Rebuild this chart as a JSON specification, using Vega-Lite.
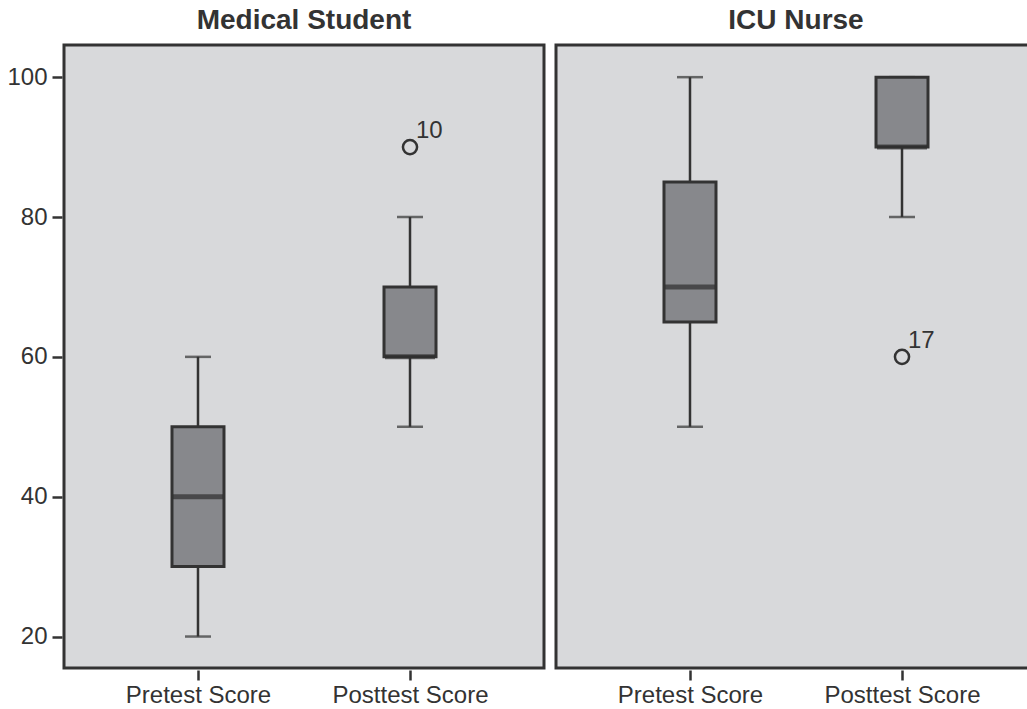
{
  "$schema": "https://vega.github.io/schema/vega-lite/v6.json",
  "padding": {"left": 0, "top": 7, "right": 0, "bottom": 0},
  "background": "white",
  "data": {"values": [
    {"group": "Medical Student", "test": "Pretest Score", "min": 20, "q1": 30, "median": 40, "q3": 50, "max": 60, "outlier": null, "case": null},
    {"group": "Medical Student", "test": "Posttest Score", "min": 50, "q1": 60, "median": 60, "q3": 70, "max": 80, "outlier": 90, "case": "10"},
    {"group": "ICU Nurse", "test": "Pretest Score", "min": 50, "q1": 65, "median": 70, "q3": 85, "max": 100, "outlier": null, "case": null},
    {"group": "ICU Nurse", "test": "Posttest Score", "min": 80, "q1": 90, "median": 90, "q3": 100, "max": 100, "outlier": 60, "case": "17"}
  ]},
  "facet": {
    "column": {"field": "group", "type": "nominal", "sort": ["Medical Student", "ICU Nurse"], "title": null,
      "header": {"labelFontSize": 28, "labelFontWeight": "bold", "labelColor": "#333333", "labelFont": "Liberation Sans", "labelPadding": 8}}
  },
  "spacing": 8,
  "spec": {
    "width": 480,
    "height": 623,
    "encoding": {
      "x": {"field": "test", "type": "nominal", "sort": ["Pretest Score", "Posttest Score"],
        "scale": {"type": "point", "padding": 0.632},
        "axis": {"title": null, "labelAngle": 0, "labelFontSize": 24, "labelFont": "Liberation Sans", "labelColor": "#333333",
          "domain": false, "tickColor": "#333333", "tickWidth": 2.5, "tickSize": 10, "labelPadding": 3}}
    },
    "layer": [
      {
        "mark": {"type": "rule", "color": "#333333", "strokeWidth": 2.5},
        "encoding": {
          "y": {"field": "min", "type": "quantitative",
            "scale": {"domain": [15.5, 104.6], "nice": false, "zero": false},
            "axis": {"title": null, "values": [20, 40, 60, 80, 100], "grid": false, "domain": false,
              "labelFontSize": 24, "labelFont": "Liberation Sans", "labelColor": "#333333",
              "tickColor": "#333333", "tickWidth": 2.5, "tickSize": 10, "labelPadding": 5,
              "minExtent": 62, "maxExtent": 62}},
          "y2": {"field": "max"}
        }
      },
      {
        "mark": {"type": "tick", "color": "#333333", "size": 26, "thickness": 2.5, "orient": "horizontal"},
        "encoding": {"y": {"field": "min", "type": "quantitative"}}
      },
      {
        "mark": {"type": "tick", "color": "#333333", "size": 26, "thickness": 2.5, "orient": "horizontal"},
        "encoding": {"y": {"field": "max", "type": "quantitative"}}
      },
      {
        "mark": {"type": "bar", "width": 52, "fill": "#87888c", "stroke": "#333333", "strokeWidth": 3},
        "encoding": {
          "y": {"field": "q1", "type": "quantitative"},
          "y2": {"field": "q3"}
        }
      },
      {
        "mark": {"type": "tick", "color": "#2e2e2e", "size": 50, "thickness": 5, "orient": "horizontal"},
        "encoding": {"y": {"field": "median", "type": "quantitative"}}
      },
      {
        "mark": {"type": "point", "shape": "circle", "filled": false, "stroke": "#333333", "strokeWidth": 2.5, "size": 200, "opacity": 1},
        "encoding": {"y": {"field": "outlier", "type": "quantitative"}}
      },
      {
        "mark": {"type": "text", "fontSize": 24, "font": "Liberation Sans", "color": "#333333", "align": "left", "baseline": "middle", "dx": 6, "dy": -16},
        "encoding": {"y": {"field": "outlier", "type": "quantitative"}, "text": {"field": "case", "type": "nominal"}}
      }
    ]
  },
  "config": {
    "view": {"fill": "#d8d9db", "stroke": "#333333", "strokeWidth": 3},
    "axis": {"labelFont": "Liberation Sans"}
  }
}
